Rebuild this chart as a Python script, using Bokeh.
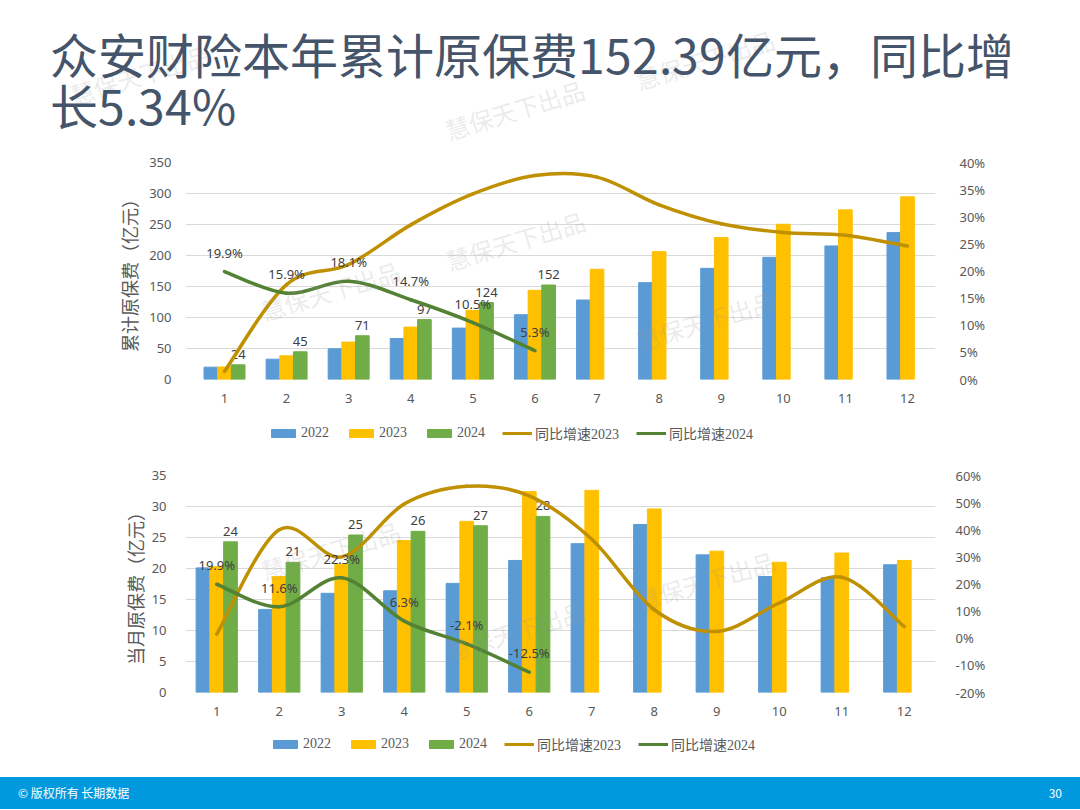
from bokeh.plotting import figure
from bokeh.models import (ColumnDataSource, Range1d, LinearAxis, FixedTicker, Legend,
                          LegendItem, Label, Div, PrintfTickFormatter, GlobalInlineStyleSheet)
from bokeh.layouts import column
from bokeh.transform import dodge
from bokeh.embed import file_html
from bokeh.resources import INLINE
from bokeh.core.properties import value

# ---------------- data ----------------
months = list(range(1, 13))
series_names = ["2022", "2023", "2024", "同比增速2023", "同比增速2024"]

cum_2022 = [19.9, 32.8, 49.5, 66.2, 82.9, 104.5, 128.2, 156.2, 179.3, 197.1, 215.4, 236.9]
cum_2023 = [20.2, 38.2, 60.3, 84.5, 111.5, 143.8, 177.7, 206.2, 228.9, 250.4, 273.6, 294.6]
cum_2024 = [23.7, 44.7, 70.6, 96.6, 124.1, 152.39]
cum_growth_2023 = [1.5, 17.5, 21.2, 28.5, 34.2, 37.6, 37.3, 32.2, 28.7, 27.1, 26.6, 24.6]
cum_growth_2024 = [19.9, 15.9, 18.1, 14.7, 10.5, 5.3]

mon_2022 = [20.1, 13.4, 16.0, 16.4, 17.6, 21.3, 24.0, 27.1, 22.2, 18.7, 18.5, 20.6]
mon_2023 = [20.3, 18.7, 20.7, 24.5, 27.6, 32.4, 32.6, 29.6, 22.8, 21.0, 22.5, 21.3]
mon_2024 = [24.3, 21.0, 25.4, 26.0, 26.9, 28.4]
mon_growth_2023 = [1.5, 40.0, 30.0, 49.5, 56.0, 52.5, 36.5, 10.5, 2.5, 13.0, 22.5, 4.3]
mon_growth_2024 = [19.9, 11.6, 22.3, 6.3, -2.1, -12.5]

title_line1 = "众安财险本年累计原保费152.39亿元，同比增"
title_line2 = "长5.34%"
footer_left = "© 版权所有 长期数据"
footer_right = "30"
watermark = "慧保天下出品"

# ---------------- style ----------------
C22, C23, C24 = "#5B9BD5", "#FFC000", "#70AD47"
G23, G24 = "#BF9000", "#548235"
TICK = "#595959"
SANS = "Noto Sans"
CJK = "Noto Sans CJK SC"
BW = 0.22
W = 1080
L, R = 185, 145   # shared borders (column aligns plot frames)

# watermark lattice (page coords)
wm_cols = [140, 330, 515, 705, 890, 1075]
wm_base = [205, 160, 110, 60, 15, -30]
WM_HX, WM_HY = 72, 33


def wm_points(x0, y0, x1, y1):
    pts = []
    for cx, by in zip(wm_cols, wm_base):
        for j in range(-1, 8):
            cy = by + 130 * j
            if cx - WM_HX >= x0 and cx + WM_HX <= x1 and cy - WM_HY >= y0 and cy + WM_HY <= y1:
                pts.append((cx, cy))
    return pts


def smooth(xs, ys):
    n = len(xs)
    d = {k: [] for k in ("x0", "y0", "x1", "y1", "cx0", "cy0", "cx1", "cy1")}
    for i in range(n - 1):
        ip = max(i - 1, 0)
        inn = min(i + 2, n - 1)
        d["x0"].append(xs[i]); d["y0"].append(ys[i])
        d["x1"].append(xs[i + 1]); d["y1"].append(ys[i + 1])
        d["cx0"].append(xs[i] + (xs[i + 1] - xs[ip]) / 6)
        d["cy0"].append(ys[i] + (ys[i + 1] - ys[ip]) / 6)
        d["cx1"].append(xs[i + 1] - (xs[inn] - xs[i]) / 6)
        d["cy1"].append(ys[i + 1] - (ys[inn] - ys[i]) / 6)
    return ColumnDataSource(d)


def style_axis(ax):
    ax.axis_line_color = None
    ax.major_tick_line_color = None
    ax.minor_tick_line_color = None
    ax.major_label_text_color = TICK
    ax.major_label_text_font_size = "13px"
    ax.major_label_text_font = SANS


def build(H, T, B, xr, yr, pr, yticks, pticks, ylabel, v22, v23, v24, g23, g24,
          ystand, lstand, rstand, page_top):
    p = figure(width=W, height=H, x_range=Range1d(*xr), y_range=Range1d(*yr),
               output_backend="svg", toolbar_location=None,
               min_border_left=L, min_border_right=R, min_border_top=T, min_border_bottom=B,
               outline_line_color=None, background_fill_color="white")
    p.extra_y_ranges = {"pct": Range1d(*pr)}
    p.xgrid.visible = False
    p.ygrid.grid_line_color = "#D9D9D9"
    p.ygrid.grid_line_width = 1

    p.xaxis.ticker = FixedTicker(ticks=months)
    style_axis(p.xaxis[0])
    p.xaxis.major_label_standoff = 8
    p.yaxis.ticker = FixedTicker(ticks=yticks)
    style_axis(p.yaxis[0])
    p.yaxis.major_label_standoff = ystand
    p.yaxis.axis_label = ylabel
    p.yaxis.axis_label_text_font = CJK
    p.yaxis.axis_label_text_font_size = "18px"
    p.yaxis.axis_label_text_font_style = "normal"
    p.yaxis.axis_label_text_color = TICK
    p.yaxis.axis_label_standoff = lstand

    rax = LinearAxis(y_range_name="pct", ticker=FixedTicker(ticks=pticks),
                     formatter=PrintfTickFormatter(format="%d%%"))
    style_axis(rax)
    rax.major_label_standoff = rstand
    p.add_layout(rax, "right")

    src = ColumnDataSource(dict(m=months, v22=v22, v23=v23))
    src24 = ColumnDataSource(dict(m=months[:len(v24)], v24=v24,
                                  lab=[str(round(v)) for v in v24]))
    p.vbar(x=dodge("m", -BW), top="v22", width=BW, source=src, fill_color=C22, line_color=C22)
    p.vbar(x="m", top="v23", width=BW, source=src, fill_color=C23, line_color=C23)
    p.vbar(x=dodge("m", BW), top="v24", width=BW, source=src24, fill_color=C24, line_color=C24)
    p.text(x=dodge("m", BW), y="v24", text="lab", source=src24, text_align="center",
           text_baseline="bottom", y_offset=-6, text_font_size="13px",
           text_color="#404040", text_font=value(SANS))

    for g, col in ((g23, G23), (g24, G24)):
        p.bezier(x0="x0", y0="y0", x1="x1", y1="y1", cx0="cx0", cy0="cy0", cx1="cx1",
                 cy1="cy1", source=smooth(months[:len(g)], g), line_color=col,
                 line_width=3.5, line_cap="round", y_range_name="pct")
    gsrc = ColumnDataSource(dict(m=months[:len(g24)], g=g24, lab=[f"{v:.1f}%" for v in g24]))
    p.text(x="m", y="g", text="lab", source=gsrc, y_range_name="pct", text_align="center",
           text_baseline="bottom", y_offset=-10, text_font_size="13px",
           text_color="#404040", text_font=value(SANS))

    # faint watermarks fully inside the plot frame
    fl, ft = L, page_top + T
    fr, fb = W - R, page_top + H - B
    for cx, cy in wm_points(fl, ft, fr, fb):
        p.add_layout(Label(x=cx - fl, y=fb - cy, x_units="screen", y_units="screen",
                           text=watermark, text_align="center", text_baseline="middle",
                           angle=0.29, text_font=CJK, text_font_size="24px",
                           text_color="#969696", text_alpha=0.2))
    return p


def legend_strip(H, lx, ly):
    s = figure(width=W, height=H, x_range=Range1d(0.5, 12.5), y_range=Range1d(0, 1),
               x_axis_type=None, y_axis_type=None, min_border_left=L, min_border_right=R,
               min_border_top=0, min_border_bottom=0, outline_line_color=None,
               toolbar_location=None, output_backend="svg")
    rs = [s.vbar(x=months, top=v, width=BW, fill_color=c, line_color=c, visible=False)
          for v, c in ((cum_2022, C22), (cum_2023, C23), (cum_2024 + [0] * 6, C24))]
    rs += [s.line(x=months[:len(g)], y=g, line_color=c, line_width=3, visible=False)
           for g, c in ((cum_growth_2023, G23), (cum_growth_2024, G24))]
    legend = Legend(items=[LegendItem(label=n, renderers=[r]) for n, r in zip(series_names, rs)],
                    orientation="horizontal", location=(lx, ly),
                    border_line_color=None, background_fill_alpha=0,
                    inactive_fill_alpha=0,
                    padding=0, margin=0, spacing=17, label_standoff=3,
                    glyph_width=30, glyph_height=10, label_height=14,
                    label_text_font_size="14px", label_text_color=TICK,
                    label_text_font="Liberation Serif, Noto Sans CJK SC")
    s.add_layout(legend, "center")
    return s


# layout (page pixels): title 0-150, chart1 150-410, legend1 410-460,
# chart2 460-722, legend2 722-777, footer 777-809
p1 = build(260, 12, 31, (0.372, 12.451), (0, 350), (0, 40), list(range(0, 351, 50)),
           list(range(0, 41, 5)), "累计原保费（亿元）", cum_2022, cum_2023, cum_2024,
           cum_growth_2023, cum_growth_2024, 8, 4, 18, 150)
leg1 = legend_strip(50, 268 - L, 17)
p2 = build(262, 15, 30, (0.5, 12.5), (0, 35), (-20, 60), list(range(0, 36, 5)),
           list(range(-20, 61, 10)), "当月原保费（亿元）", mon_2022, mon_2023, mon_2024,
           mon_growth_2023, mon_growth_2024, 13, 1, 14, 460)
leg2 = legend_strip(55, 270 - L, 23)

# title block: compact line metrics for the tightly set two-line heading
title_font_css = GlobalInlineStyleSheet(css=(
    "@font-face { font-family: 'TitleCJK'; "
    "src: local('Noto Sans CJK SC'), local('NotoSansCJKsc-Regular'), "
    "local('Noto Sans CJK SC Regular'); "
    "ascent-override: 88%; descent-override: 12%; line-gap-override: 0%; }"))
wm_html = "".join(
    f"<span style=\"position:absolute;left:{cx - 72}px;top:{cy - 14}px;width:144px;"
    f"text-align:center;font-size:24px;line-height:28px;color:rgba(150,150,150,0.2);"
    f"transform:rotate(-17deg);white-space:nowrap\">{watermark}</span>"
    for cx, cy in wm_points(0, 0, W, 150))
title_html = "".join(
    f"<div style=\"position:absolute;left:50px;top:{top}px;height:50px;font-size:48px;"
    f"font-family:'TitleCJK','Noto Sans CJK SC';"
    f"line-height:50px;color:#44546A;white-space:nowrap;overflow:visible\">{t}</div>"
    for t, top in ((title_line1, 31), (title_line2, 82)))
title_div = Div(width=W, height=150, margin=0, stylesheets=[title_font_css], text=(
    "<div style=\"position:relative;width:1080px;height:150px;overflow:hidden;"
    "font-family:'Noto Sans CJK SC'\">" + wm_html + title_html + "</div>"))

footer = Div(width=W, height=32, margin=0, text=(
    "<div style=\"position:relative;width:1080px;height:32px;background:#0099DD;"
    "font-family:'Noto Sans CJK SC';color:white;font-size:12px;overflow:hidden\">"
    f"<span style=\"position:absolute;left:18px;top:7px\">{footer_left}</span>"
    f"<span style=\"position:absolute;right:18px;top:7px\">{footer_right}</span></div>"))

layout = column(title_div, p1, leg1, p2, leg2, footer, spacing=0)
open("out.html", "w").write(file_html(layout, INLINE))
